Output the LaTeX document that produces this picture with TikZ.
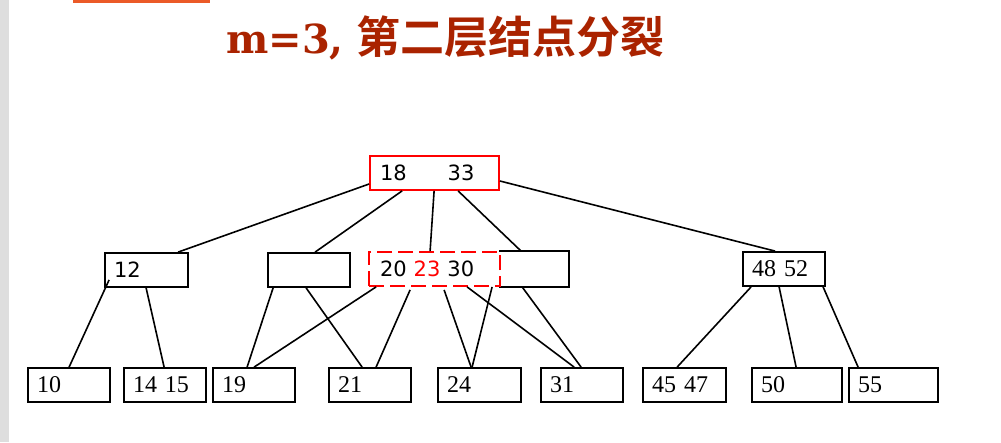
\documentclass[tikz,border=0pt]{standalone}
\usepackage{fontspec}
\newfontfamily\cjk[BoldFont={Noto Sans CJK SC Bold}]{Noto Sans CJK SC}
\newfontfamily\titleserif{DejaVu Serif}
\newfontfamily\keysans{DejaVu Sans}
\newfontfamily\keyserif{Liberation Serif}
\usepackage{xcolor}
\usetikzlibrary{calc}
\definecolor{titlered}{RGB}{170,35,0}
\definecolor{tabred}{RGB}{235,90,40}
\definecolor{bargray}{RGB}{222,222,222}

\begin{document}
\begin{tikzpicture}[x=1pt,y=-1pt,
  keybox/.style={draw,line width=1.8pt,minimum height=34pt,inner ysep=0pt,
    inner xsep=9pt,text width=#1,align=left,
    font=\keyserif\fontsize{24}{24}\selectfont},
  keybox/.default=64pt,
  sanskeys/.style={font=\keysans\fontsize{21}{21}\selectfont},
  splitbox/.style={keybox=#1,draw=red,dash pattern=on 15pt off 6pt,inner xsep=11pt,sanskeys},
  edge/.style={line width=1.6pt}]
  \useasboundingbox (0,0) rectangle (1001,442);
  \fill[bargray] (0,0) rectangle (9,442);
  \fill[tabred] (73,-2) rectangle (210,2.5);

  % 标题
  \node[anchor=west,text=titlered,inner sep=0pt] (title) at (226,38)
    {\titleserif\bfseries\fontsize{40}{40}\selectfont m=3,\hspace{13pt}\cjk\bfseries\fontsize{44}{44}\selectfont 第二层结点分裂};

  % 根结点
  \node[keybox=109pt,draw=red,inner xsep=10pt,sanskeys] (root) at (434.5,173) {18\hspace{41pt}33};

  % 第二层
  \node[keybox=65pt,sanskeys] (n12) at (146.5,270) {12};
  \node[keybox] (nempty) at (309,270) {};
  \node[keybox=50pt,draw=none] (n2030r) at (534,269) {};
  \draw[line width=1.8pt] (n2030r.north west) -- (n2030r.north east)
    -- (n2030r.south east) -- (n2030r.south west);
  \node[splitbox=109pt,minimum width=131pt] (n2030) at (434.5,269) {20 {\color{red}23} 30};
  \node[keybox] (n4852) at (784,269) {48 52};

  % 叶子
  \node[keybox] (n10) at (69,385) {10};
  \node[keybox] (n1415) at (165,385) {14 15};
  \node[keybox] (n19) at (254,385) {19};
  \node[keybox] (n21) at (370,385) {21};
  \node[keybox=65pt] (n24) at (479.5,385) {24};
  \node[keybox] (n31) at (582,385) {31};
  \node[keybox=65pt] (n4547) at (684.5,385) {45 47};
  \node[keybox=72pt] (n50) at (797,385) {50};
  \node[keybox=71pt] (n55) at (893.5,385) {55};

  % 根 -- 第二层
  \draw[edge] ([yshift=-11pt]root.west) -- ([xshift=74pt]n12.north west);
  \draw[edge] ([xshift=33pt]root.south west) -- ([xshift=48pt]nempty.north west);
  \draw[edge] ([xshift=65pt]root.south west) -- ([xshift=62pt]n2030.north west);
  \draw[edge] ([xshift=89pt]root.south west) -- ([xshift=22pt]n2030r.north west);
  \draw[edge] ([yshift=-8pt]root.east) -- ([xshift=33pt]n4852.north west);

  % 第二层 -- 叶子
  \draw[edge] ([xshift=5pt,yshift=8pt]n12.south west) -- ([xshift=42pt]n10.north west);
  \draw[edge] ([xshift=42pt]n12.south west) -- ([xshift=41pt]n1415.north west);
  \draw[edge] ([xshift=6pt]nempty.south west) -- ([xshift=35pt]n19.north west);
  \draw[edge] ([xshift=39pt]nempty.south west) -- ([xshift=34pt]n21.north west);
  \draw[edge] ([xshift=8pt]n2030.south west) -- ([xshift=42pt]n19.north west);
  \draw[edge] ([xshift=42pt,yshift=-3pt]n2030.south west) -- ([xshift=48pt]n21.north west);
  \draw[edge] ([xshift=76pt,yshift=-3pt]n2030.south west) -- ([xshift=34pt]n24.north west);
  \draw[edge] ([xshift=124pt]n2030.south west) -- ([xshift=35pt]n24.north west);
  \draw[edge] ([xshift=99pt]n2030.south west) -- ([xshift=34pt]n31.north west);
  \draw[edge] ([xshift=23pt]n2030r.south west) -- ([xshift=41pt]n31.north west);
  \draw[edge] ([xshift=9pt]n4852.south west) -- ([xshift=35pt]n4547.north west);
  \draw[edge] ([xshift=37pt]n4852.south west) -- ([xshift=45pt]n50.north west);
  \draw[edge] ([xshift=81pt]n4852.south west) -- ([xshift=10pt]n55.north west);
\end{tikzpicture}
\end{document}
